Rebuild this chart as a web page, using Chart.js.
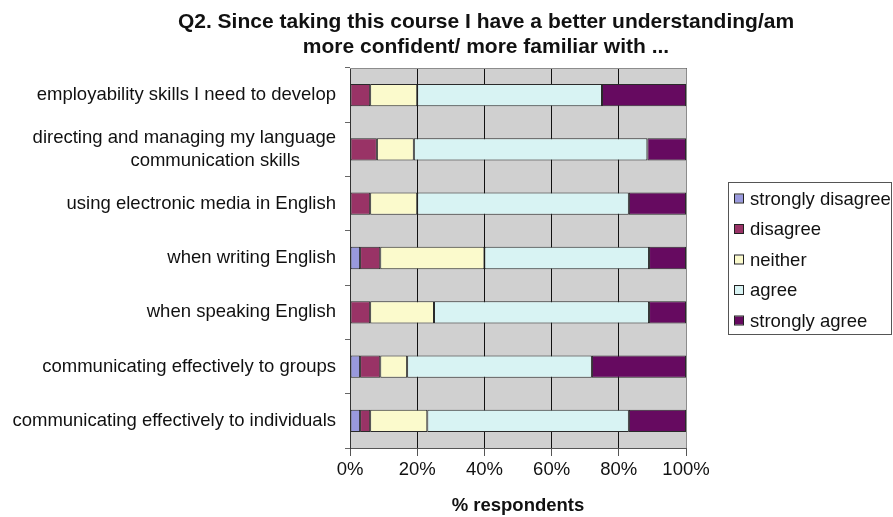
<!DOCTYPE html>
<html>
<head>
<meta charset="utf-8">
<script src="https://cdn.jsdelivr.net/npm/chart.js@4"></script>
<style>
  html, body { margin: 0; padding: 0; background: #fff; }
  #wrap { width: 893px; height: 517px; position: relative; }
</style>
</head>
<body>
<div id="wrap"><canvas id="surveyChart"></canvas></div>
<script>
const titleLines = [
    'Q2. Since taking this course I have a better understanding/am',
    'more confident/ more familiar with ...'
];

const categories = [
    'employability skills I need to develop',
    ['directing and managing my language', 'communication skills       '],
    'using electronic media in English',
    'when writing English',
    'when speaking English',
    'communicating effectively to groups',
    'communicating effectively to individuals'
];

const xTicks = [0, 20, 40, 60, 80, 100];

const stronglyDisagree = [0, 0, 0, 3, 0, 3, 3];
const disagree         = [6, 8, 6, 6, 6, 6, 3];
const neither          = [14, 11, 14, 31, 19, 8, 17];
const agree            = [55, 69.5, 63, 49, 64, 55, 60];
const stronglyAgree    = [25, 11.5, 17, 11, 11, 28, 17];

const font = "'Liberation Sans', Arial, sans-serif";

// grey plot background, outer border, title and boxed legend
const surveyDecor = {
    id: 'surveyDecor',
    beforeDraw(chart) {
        const { ctx, chartArea: a } = chart;
        ctx.save();
        ctx.fillStyle = '#d0d0d0';
        ctx.fillRect(a.left, a.top, a.right - a.left, a.bottom - a.top);
        ctx.restore();
    },
    afterDraw(chart) {
        const { ctx, chartArea: a } = chart;
        ctx.save();
        ctx.strokeStyle = '#8c8c8c';
        ctx.lineWidth = 1;
        ctx.beginPath();
        ctx.moveTo(a.left, a.top + 0.5);
        ctx.lineTo(a.right + 0.5, a.top + 0.5);
        ctx.lineTo(a.right + 0.5, a.bottom);
        ctx.stroke();

        // title
        ctx.fillStyle = '#111';
        ctx.font = 'bold 21px ' + font;
        ctx.textAlign = 'center';
        ctx.textBaseline = 'middle';
        ctx.fillText(titleLines[0], 486, 22);
        ctx.fillText(titleLines[1], 486, 47);

        // legend
        ctx.strokeStyle = '#555';
        ctx.strokeRect(728.5, 182.5, 163, 152);
        ctx.font = '18.5px ' + font;
        ctx.textAlign = 'left';
        chart.data.datasets.forEach((ds, i) => {
            const y = 198.5 + i * 30.5;
            ctx.fillStyle = ds.backgroundColor;
            ctx.fillRect(735, y - 4, 8, 8);
            ctx.strokeStyle = '#222';
            ctx.strokeRect(734.5, y - 4.5, 9, 9);
            ctx.fillStyle = '#111';
            ctx.fillText(ds.label, 750, y + 1);
        });
        ctx.restore();
    }
};

const barStyle = {
    borderColor: '#2a2a2a',
    borderWidth: 1,
    borderSkipped: false,
    barPercentage: 0.41,
    categoryPercentage: 1
};

new Chart(document.getElementById('surveyChart'), {
    type: 'bar',
    data: {
        labels: categories,
        datasets: [
            { label: 'strongly disagree', data: stronglyDisagree, backgroundColor: '#9999dd', ...barStyle },
            { label: 'disagree', data: disagree, backgroundColor: '#993366', ...barStyle },
            { label: 'neither', data: neither, backgroundColor: '#fbfacc', ...barStyle },
            { label: 'agree', data: agree, backgroundColor: '#d8f3f3', ...barStyle },
            { label: 'strongly agree', data: stronglyAgree, backgroundColor: '#660a60', ...barStyle }
        ]
    },
    options: {
        indexAxis: 'y',
        responsive: true,
        maintainAspectRatio: false,
        animation: false,
        layout: {
            padding: { top: 68, right: 207, left: 0, bottom: 0 }
        },
        scales: {
            x: {
                stacked: true,
                min: 0,
                max: 100,
                afterBuildTicks(scale) {
                    scale.ticks = xTicks.map(v => ({ value: v }));
                },
                afterFit(scale) {
                    scale.height = 69;
                },
                ticks: {
                    callback: v => v + '%',
                    color: '#111',
                    padding: 3,
                    font: { family: font, size: 18.5 }
                },
                grid: {
                    color: '#111',
                    lineWidth: 1,
                    tickLength: 8,
                    tickColor: '#555'
                },
                border: { color: '#555', width: 1 },
                title: {
                    display: true,
                    text: '% respondents',
                    color: '#111',
                    padding: { top: 0, bottom: 0 },
                    font: { family: font, size: 18.5, weight: 'bold' }
                }
            },
            y: {
                stacked: true,
                afterFit(scale) {
                    scale.width = 350;
                },
                ticks: {
                    color: '#111',
                    padding: 9,
                    font: { family: font, size: 18.5 }
                },
                grid: {
                    offset: true,
                    drawOnChartArea: false,
                    tickLength: 5,
                    tickColor: '#666'
                },
                border: { color: '#333', width: 1 }
            }
        },
        plugins: {
            legend: { display: false },
            title: { display: false },
            tooltip: { enabled: false }
        }
    },
    plugins: [surveyDecor]
});
</script>
</body>
</html>
